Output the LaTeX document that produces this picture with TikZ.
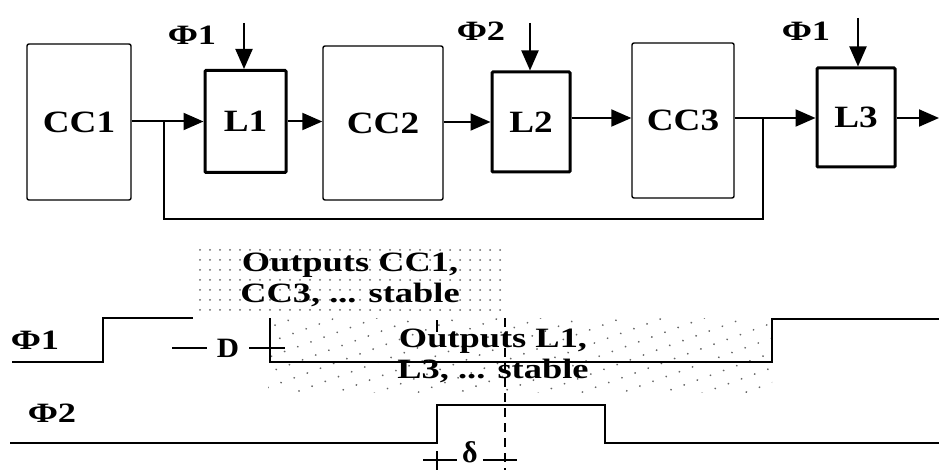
\documentclass[tikz,border=0pt]{standalone}
\usepackage{fontspec}
\setmainfont{Liberation Serif}
\usetikzlibrary{arrows.meta,patterns.meta}
\newcommand{\wideT}[2]{\scalebox{#1}[1]{#2}}
\begin{document}
\begin{tikzpicture}[x=1pt,y=-1pt,
  ccbox/.style={draw,line width=1.4pt,rounded corners=2pt,inner sep=0pt},
  latch/.style={draw,line width=3pt,rounded corners=1pt,inner sep=0pt},
  lbl/.style={font=\fontsize{31}{31}\selectfont\bfseries},
  phi/.style={font=\fontsize{28}{28}\selectfont\bfseries,inner sep=0pt},
  arr/.style={line width=2pt,-{Triangle[length=20pt,width=17pt]}},
  fb/.style={line width=1.5pt},
  wave/.style={line width=2pt,line join=miter},
  stip/.style={pattern={Dots[radius=1pt,distance=10pt]},pattern color=black!60},
  stipb/.style={pattern={Dots[radius=1pt,distance=14pt,angle=20]},pattern color=black!60},
  ttxt/.style={font=\fontsize{28}{31}\selectfont\bfseries,align=center,inner sep=0pt},
  dim/.style={line width=1.5pt},
  dsh/.style={line width=1.8pt,dash pattern=on 9pt off 6pt}]
\useasboundingbox (0,0) rectangle (939,470);

% ---------- block diagram ----------
\node[ccbox,minimum width=104pt,minimum height=156pt,lbl] (CC1) at (79,122) {\wideT{1.2}{CC1}};
\node[latch,minimum width=81pt,minimum height=102pt,lbl] (L1) at (245.5,121.5) {\wideT{1.2}{L1}};
\node[ccbox,minimum width=120pt,minimum height=154pt,lbl] (CC2) at (383,123) {\wideT{1.2}{CC2}};
\node[latch,minimum width=78pt,minimum height=100pt,lbl] (L2) at (531,122) {\wideT{1.2}{L2}};
\node[ccbox,minimum width=102pt,minimum height=155pt,lbl] (CC3) at (683,120.5) {\wideT{1.2}{CC3}};
\node[latch,minimum width=78pt,minimum height=99pt,lbl] (L3) at (856,117.5) {\wideT{1.2}{L3}};

\node[phi] (p1a) at (192,35) {\wideT{1.3}{Φ1}};
\node[phi] (p2a) at (481,31) {\wideT{1.3}{Φ2}};
\node[phi] (p1b) at (806,31) {\wideT{1.3}{Φ1}};

\coordinate (c1) at (244,23);
\coordinate (c2) at (530,23);
\coordinate (c3) at (858,18);
\draw[arr] (c1) -- (c1 |- L1.north);
\draw[arr] (c2) -- (c2 |- L2.north);
\draw[arr] (c3) -- (c3 |- L3.north);

\coordinate (J1) at (164,122);
\coordinate (J2) at (763,118);
\coordinate (out) at (939,118);

\draw[arr] (CC1.east |- L1.west) -- (L1.west);
\draw[arr] (L1.east) -- (L1.east -| CC2.west);
\draw[arr] (CC2.east |- L2.west) -- (L2.west);
\draw[arr] (L2.east |- 0,118) -- (CC3.west |- 0,118);
\draw[arr] (CC3.east |- J2) -- (L3.west |- J2);
\draw[arr] (L3.east |- out) -- (out);
\draw[fb] (J1) -- ++(0,97) -| (J2);

% ---------- timing diagram ----------
\fill[stip] (193,245) rectangle (503,318);
\fill[stipb] (268,318) rectangle (772,392);

\node[ttxt] (t1) at (350,280) {\wideT{1.3}{Outputs CC1,}\\\wideT{1.3}{CC3, ... stable}};
\node[ttxt] (t2) at (493,356) {\wideT{1.3}{Outputs L1,}\\\wideT{1.3}{L3, ... stable}};

\node[phi] (w1) at (35,340) {\wideT{1.3}{Φ1}};
\node[phi] (w2) at (52,413) {\wideT{1.3}{Φ2}};

\draw[wave] (12,362) -- (103,362) -- (103,318) -- (193,318);
\draw[wave] (270,318) -- (270,362) -- (772,362) -- (772,319) -- (939,319);
\draw[wave] (10,443) -- (437,443) -- (437,405) -- (605,405) -- (605,443) -- (939,443);

% D dimension
\node[font=\fontsize{28}{28}\selectfont\bfseries,inner sep=0pt] (D) at (228,348) {\wideT{1.1}{D}};
\coordinate (d0) at (172,348);
\coordinate (d1) at (285,348);
\coordinate (Dw) at ([xshift=-10pt]D.west);
\coordinate (De) at ([xshift=10pt]D.east);
\draw[dim] (d0) -- (d0 -| Dw);
\draw[dim] (d1 -| De) -- (d1);

% delta dimension
\draw[dsh] (505,318) -- (505,470);
\draw[dim] (437,320) -- (437,332);
\draw[dim] (437,451) -- (437,470);
\node[font=\fontsize{30}{30}\selectfont\bfseries,inner sep=0pt] (dl) at (470,452) {δ};
\coordinate (e0) at (423,460);
\coordinate (e1) at (517,460);
\coordinate (dlw) at ([xshift=-5pt]dl.west);
\coordinate (dle) at ([xshift=5pt]dl.east);
\draw[dim] (e0) -- (e0 -| dlw);
\draw[dim] (e1 -| dle) -- (e1);
\end{tikzpicture}
\end{document}
